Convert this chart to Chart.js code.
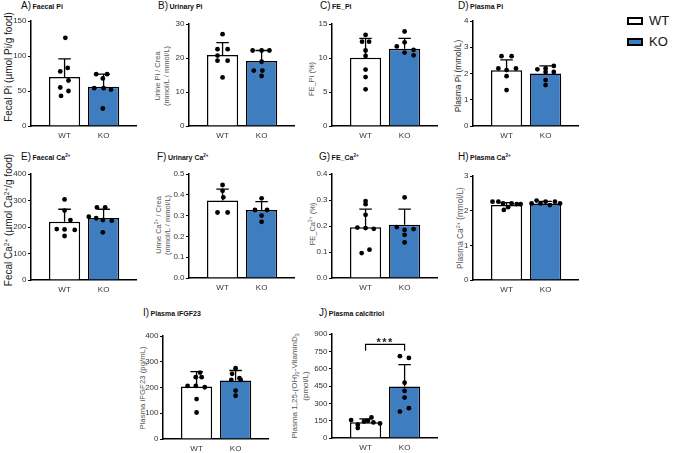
<!DOCTYPE html>
<html>
<head>
<meta charset="utf-8">
<script src="https://cdn.jsdelivr.net/npm/chart.js@4.4.1/dist/chart.umd.min.js"></script>
<style>
  body { margin: 0; background: #fff; }
  #fig { position: relative; width: 676px; height: 453px; overflow: hidden; font-family: "Liberation Sans", Arial, sans-serif; }
  canvas { position: absolute; }
  .ttl { position: absolute; font-size: 10px; line-height: 12px; color: #111; white-space: nowrap; }
  .ttl b { font-size: 7px; margin-left: 1.5px; }
  .ttl sup { font-size: 4.5px; vertical-align: 3px; line-height: 0; }
  .yt { position: absolute; white-space: nowrap; text-align: center; transform: translate(-50%, -50%) rotate(-90deg); }
  .yt sup { font-size: 65%; vertical-align: 3px; line-height: 0; }
  .yt sub { font-size: 65%; vertical-align: -2px; line-height: 0; }
  .lbox { position: absolute; width: 12px; height: 4px; border: 2px solid #000; }
  .ltxt { position: absolute; font-size: 13px; line-height: 14px; color: #111; }
</style>
</head>
<body>
<div id="fig"></div>
<script>
const groups = ['WT', 'KO'];

// A) Faecal Pi
const faecalPiMean = [70, 56];
const faecalPiSD = [26, 18];
const faecalPiWT = [126, 83, 78, 65, 55, 50, 43];
const faecalPiKO = [74, 74, 68, 54, 54, 52, 25];
const faecalPiTicks = ['0', '50', '100', '150'];

// B) Urinary Pi
const urinePiMean = [20.9, 19.1];
const urinePiSD = [3.6, 3.1];
const urinePiWT = [27, 22.6, 22.6, 20.7, 19.2, 19.2, 14.3];
const urinePiKO = [22.2, 22.2, 22.2, 18.9, 16.3, 16.3, 14.7];
const urinePiTicks = ['0', '10', '20', '30'];

// C) FE_Pi
const fePiMean = [10.05, 11.35];
const fePiSD = [2.85, 1.55];
const fePiWT = [13.4, 12.4, 12.4, 11.1, 10.3, 8.3, 7.2, 5.4];
const fePiKO = [13.9, 12.3, 11.7, 10.8, 11.2, 10.4];
const fePiTicks = ['0', '5', '10', '15'];

// D) Plasma Pi
const plasmaPiMean = [2.12, 2.0];
const plasmaPiSD = [0.4, 0.29];
const plasmaPiWT = [2.66, 2.66, 2.19, 2.13, 2.19, 1.9, 1.37];
const plasmaPiKO = [2.16, 2.19, 2.29, 2.06, 2.06, 1.75, 1.56];
const plasmaPiTicks = ['0', '1', '2', '3', '4'];

// E) Faecal Ca2+
const faecalCaMean = [220, 234];
const faecalCaSD = [47, 33];
const faecalCaWT = [304, 262, 226, 192, 191, 189, 166];
const faecalCaKO = [274, 274, 239, 233, 226, 224, 180];
const faecalCaTicks = ['0', '100', '200', '300', '400'];

// F) Urinary Ca2+
const urineCaMean = [0.372, 0.327];
const urineCaSD = [0.055, 0.04];
const urineCaWT = [0.447, 0.419, 0.388, 0.315, 0.315];
const urineCaKO = [0.383, 0.327, 0.327, 0.3, 0.27];
const urineCaTicks = ['0.0', '0.1', '0.2', '0.3', '0.4', '0.5'];

// G) FE_Ca2+
const feCaMean = [0.195, 0.205];
const feCaSD = [0.07, 0.06];
const feCaWT = [0.296, 0.284, 0.243, 0.194, 0.192, 0.189, 0.096, 0.109];
const feCaKO = [0.31, 0.196, 0.185, 0.188, 0.166, 0.137];
const feCaTicks = ['0.0', '0.1', '0.2', '0.3', '0.4'];

// H) Plasma Ca2+
const plasmaCaMean = [2.16, 2.21];
const plasmaCaSD = [0.07, 0.06];
const plasmaCaWT = [2.26, 2.26, 2.21, 2.02, 2.1, 2.21, 2.19, 2.19];
const plasmaCaKO = [2.21, 2.29, 2.21, 2.26, 2.16, 2.26, 2.21];
const plasmaCaTicks = ['0', '1', '2', '3'];

// I) Plasma iFGF23
const fgfMean = [204, 227];
const fgfSD = [58, 39];
const fgfWT = [258, 240, 240, 206, 206, 201, 155, 103];
const fgfKO = [275, 253, 236, 230, 230, 188, 168];
const fgfTicks = ['0', '100', '200', '300', '400'];

// J) Plasma calcitriol
const calcitriolMean = [136, 445];
const calcitriolSD = [30, 190];
const calcitriolWT = [155, 86, 143, 178, 135, 126, 115, 149];
const calcitriolKO = [708, 693, 479, 407, 350, 258, 229];
const calcitriolTicks = ['0', '150', '300', '450', '600', '750', '900'];
const calcitriolSig = { top: 810, drop: 755, text: '***' };

// horizontal scatter of the dots around each bar (in category units)
const jitter = {
  A: [[0.02, 0.08, -0.11, 0.1, -0.11, 0.1, -0.09], [-0.19, 0.09, -0.02, -0.24, 0, 0.19, -0.02]],
  B: [[0, -0.13, 0.13, -0.13, 0.13, -0.13, 0], [-0.23, 0, 0.2, 0, -0.2, 0.02, 0]],
  C: [[0, 0.09, -0.09, 0, 0, 0, 0, 0], [0, 0, -0.2, 0, 0.23, 0.23]],
  D: [[-0.13, 0.13, -0.21, 0, 0.24, 0, 0], [-0.21, 0, 0.21, 0, 0.21, 0, 0]],
  E: [[0, 0, 0.15, -0.2, 0, 0.26, 0], [-0.17, 0.04, -0.38, -0.19, -0.02, 0.21, -0.02]],
  F: [[0, 0, 0.02, -0.13, 0.13], [0, -0.17, 0.14, 0, 0]],
  G: [[0, 0, 0, -0.21, 0, 0.21, -0.1, 0.1], [0, -0.2, 0, 0.23, 0, 0]],
  H: [[-0.36, -0.21, -0.09, -0.07, 0.04, 0.13, 0.26, 0.36], [-0.36, -0.23, -0.13, 0, 0.11, 0.24, 0.37]],
  I: [[0.09, -0.02, 0.13, -0.23, -0.02, 0.21, 0, 0], [0, -0.09, 0.1, -0.11, 0.13, 0, 0]],
  J: [[-0.37, -0.2, -0.04, 0.15, 0.2, 0.37, -0.2, 0.06], [-0.12, 0.11, 0, 0, 0, 0.11, -0.12]]
};

const FONT = '"Liberation Sans", Arial, sans-serif';
const BLUE = '#3e7dbf';
const X_MIN = 0.14, X_MAX = 2.83;
const PLOT_W = 105, AX_W = 24, PAD_T = 6, X_H = 20;

const panels = [
  { tag: 'A', name: 'Faecal Pi', tx: 21, ty: 0, x0: 31, top: 21, bot: 126,
    ylab: 'Fecal Pi (µmol Pi/g food)', yfs: 10, ycx: 8.5, ycy: 67, ycol: '#1a1a1a',
    mean: faecalPiMean, sd: faecalPiSD, wt: faecalPiWT, ko: faecalPiKO, ticks: faecalPiTicks },
  { tag: 'B', name: 'Urinary Pi', tx: 158, ty: 0, x0: 189, top: 24, bot: 126,
    ylab: 'Urine Pi / Crea<br>(mmol/L / mmol/L)', yfs: 7.5, ylh: 9, ycx: 162, ycy: 76, ycol: '#555',
    mean: urinePiMean, sd: urinePiSD, wt: urinePiWT, ko: urinePiKO, ticks: urinePiTicks },
  { tag: 'C', name: 'FE_Pi', tx: 320, ty: 0, x0: 332, top: 24, bot: 126,
    ylab: 'FE_Pi (%)', yfs: 7.5, ycx: 312, ycy: 79, ycol: '#555',
    mean: fePiMean, sd: fePiSD, wt: fePiWT, ko: fePiKO, ticks: fePiTicks },
  { tag: 'D', name: 'Plasma Pi', tx: 458, ty: 0, x0: 473, top: 21, bot: 126,
    ylab: 'Plasma Pi (mmol/L)', yfs: 8.3, ycx: 458.5, ycy: 76, ycol: '#1a1a1a',
    mean: plasmaPiMean, sd: plasmaPiSD, wt: plasmaPiWT, ko: plasmaPiKO, ticks: plasmaPiTicks },
  { tag: 'E', name: 'Faecal Ca<sup>2+</sup>', tx: 21, ty: 151, x0: 31, top: 174, bot: 280,
    ylab: 'Fecal Ca<sup>2+</sup> (µmol Ca<sup>2+</sup>/g food)', yfs: 10, ycx: 8.5, ycy: 220, ycol: '#1a1a1a',
    mean: faecalCaMean, sd: faecalCaSD, wt: faecalCaWT, ko: faecalCaKO, ticks: faecalCaTicks },
  { tag: 'F', name: 'Urinary Ca<sup>2+</sup>', tx: 157, ty: 151, x0: 189, top: 174, bot: 278,
    ylab: 'Urine Ca<sup>2+</sup> / Crea<br>(mmol/L / mmol/L)', yfs: 7.5, ylh: 8.5, ycx: 162.7, ycy: 225, ycol: '#555',
    mean: urineCaMean, sd: urineCaSD, wt: urineCaWT, ko: urineCaKO, ticks: urineCaTicks },
  { tag: 'G', name: 'FE_Ca<sup>2+</sup>', tx: 319, ty: 151, x0: 332, top: 174, bot: 278,
    ylab: 'FE_Ca<sup>2+</sup> (%)', yfs: 7.5, ycx: 313, ycy: 224, ycol: '#555',
    mean: feCaMean, sd: feCaSD, wt: feCaWT, ko: feCaKO, ticks: feCaTicks },
  { tag: 'H', name: 'Plasma Ca<sup>2+</sup>', tx: 458, ty: 151, x0: 473, top: 176, bot: 280,
    ylab: 'Plasma Ca<sup>2+</sup> (mmol/L)', yfs: 8.3, ycx: 461, ycy: 228, ycol: '#555',
    mean: plasmaCaMean, sd: plasmaCaSD, wt: plasmaCaWT, ko: plasmaCaKO, ticks: plasmaCaTicks },
  { tag: 'I', name: 'Plasma iFGF23', tx: 143, ty: 307, x0: 163, top: 336, bot: 439,
    ylab: 'Plasma iFGF23 (pg/mL)', yfs: 7.8, ycx: 143, ycy: 388, ycol: '#555',
    mean: fgfMean, sd: fgfSD, wt: fgfWT, ko: fgfKO, ticks: fgfTicks },
  { tag: 'J', name: 'Plasma calcitriol', tx: 319, ty: 307, x0: 332, top: 334, bot: 438,
    ylab: 'Plasma 1,25-(OH)<sub>2</sub>-VitaminD<sub>3</sub><br>(pmol/L)', yfs: 8, ylh: 10.5, ycx: 299.8, ycy: 386, ycol: '#555',
    mean: calcitriolMean, sd: calcitriolSD, wt: calcitriolWT, ko: calcitriolKO, ticks: calcitriolTicks, sig: calcitriolSig }
];

const fig = document.getElementById('fig');

function addDiv(cls, html, css) {
  const d = document.createElement('div');
  d.className = cls;
  d.innerHTML = html;
  Object.assign(d.style, css);
  fig.appendChild(d);
  return d;
}

// SD whisker above each bar
function errorBars(sd) {
  return {
    id: 'errbars',
    afterDatasetDraw(chart, args) {
      if (args.meta.type !== 'bar') return;
      const ctx = chart.ctx, ys = chart.scales.y;
      const ds = chart.data.datasets[args.index];
      ctx.save();
      ctx.strokeStyle = '#000';
      ctx.lineWidth = 1.3;
      args.meta.data.forEach((el, i) => {
        const yt = ys.getPixelForValue(ds.data[i].y + sd[i]);
        const half = el.width * 0.2;
        ctx.beginPath();
        ctx.moveTo(el.x, el.y);
        ctx.lineTo(el.x, yt);
        ctx.moveTo(el.x - half, yt);
        ctx.lineTo(el.x + half, yt);
        ctx.stroke();
      });
      ctx.restore();
    }
  };
}

// significance bracket between WT and KO
function bracket(sig) {
  return {
    id: 'bracket',
    afterDraw(chart) {
      if (!sig) return;
      const ctx = chart.ctx, xs = chart.scales.x, ys = chart.scales.y;
      const x1 = xs.getPixelForValue(1), x2 = xs.getPixelForValue(2);
      const yt = ys.getPixelForValue(sig.top), yd = ys.getPixelForValue(sig.drop);
      ctx.save();
      ctx.strokeStyle = '#000';
      ctx.lineWidth = 1.2;
      ctx.beginPath();
      ctx.moveTo(x1, yd); ctx.lineTo(x1, yt); ctx.lineTo(x2, yt); ctx.lineTo(x2, yd);
      ctx.stroke();
      ctx.fillStyle = '#222';
      ctx.font = 'bold 11px ' + FONT;
      if ('letterSpacing' in ctx) ctx.letterSpacing = '1.5px';
      ctx.textAlign = 'center';
      ctx.textBaseline = 'alphabetic';
      ctx.fillText(sig.text, (x1 + x2) / 2, yt + 1.5);
      ctx.restore();
    }
  };
}

function makePanel(p) {
  addDiv('ttl', p.tag + ')<b>' + p.name + '</b>', { left: p.tx + 'px', top: p.ty + 'px' });
  addDiv('yt', p.ylab, {
    left: p.ycx + 'px', top: p.ycy + 'px', fontSize: p.yfs + 'px',
    lineHeight: (p.ylh || p.yfs * 1.15) + 'px', color: p.ycol
  });

  const cv = document.createElement('canvas');
  const w = AX_W + PLOT_W + 4, h = p.bot - p.top + PAD_T + X_H;
  cv.width = w; cv.height = h;
  cv.style.left = (p.x0 - AX_W) + 'px';
  cv.style.top = (p.top - PAD_T) + 'px';
  cv.style.width = w + 'px';
  cv.style.height = h + 'px';
  fig.appendChild(cv);

  const j = jitter[p.tag];
  const dots = p.wt.map((v, i) => ({ x: 1 + j[0][i], y: v }))
    .concat(p.ko.map((v, i) => ({ x: 2 + j[1][i], y: v })));
  const yVals = p.ticks.map(Number);

  new Chart(cv, {
    type: 'bar',
    data: {
      datasets: [
        { type: 'scatter', data: dots, pointRadius: 2.4, pointBackgroundColor: '#000',
          pointBorderWidth: 0, order: 0 },
        { type: 'bar', data: p.mean.map((m, i) => ({ x: i + 1, y: m })),
          backgroundColor: ['#fff', BLUE], borderColor: '#000', borderWidth: 1.5,
          barPercentage: 0.8, categoryPercentage: 1, order: 1 }
      ]
    },
    options: {
      responsive: false, animation: false, devicePixelRatio: 1,
      events: [],
      layout: { padding: { top: PAD_T, right: 4, left: 0, bottom: 0 } },
      plugins: { legend: { display: false }, tooltip: { enabled: false } },
      scales: {
        x: {
          type: 'linear', min: X_MIN, max: X_MAX, offset: false, bounds: 'data',
          afterBuildTicks: s => { s.ticks = groups.map((g, i) => ({ value: i + 1 })); },
          ticks: { callback: (v, i) => groups[i], font: { size: 8, family: FONT }, color: '#333',
                   padding: 5, maxRotation: 0, autoSkip: false },
          grid: { display: false, drawTicks: false, offset: false },
          border: { color: '#000', width: 1.5 },
          afterFit: s => { s.height = X_H; s.paddingLeft = 0; s.paddingRight = 0; }
        },
        y: {
          min: 0, max: yVals[yVals.length - 1],
          afterBuildTicks: s => { s.ticks = yVals.map(v => ({ value: v })); },
          ticks: { callback: (v, i) => p.ticks[i], font: { size: 8, family: FONT }, color: '#333', padding: 1.5 },
          grid: { display: true, drawOnChartArea: false, drawTicks: true, tickLength: 3, color: '#000', lineWidth: 1 },
          border: { color: '#000', width: 1.5 },
          afterFit: s => { s.width = AX_W; s.paddingTop = 0; s.paddingBottom = 0; }
        }
      }
    },
    plugins: [errorBars(p.sd), bracket(p.sig)]
  });
}

panels.forEach(makePanel);

// legend
addDiv('lbox', '', { left: '627px', top: '17px', background: '#fff' });
addDiv('ltxt', 'WT', { left: '649px', top: '14px' });
addDiv('lbox', '', { left: '627px', top: '38px', background: BLUE });
addDiv('ltxt', 'KO', { left: '649px', top: '35px' });
</script>
</body>
</html>
